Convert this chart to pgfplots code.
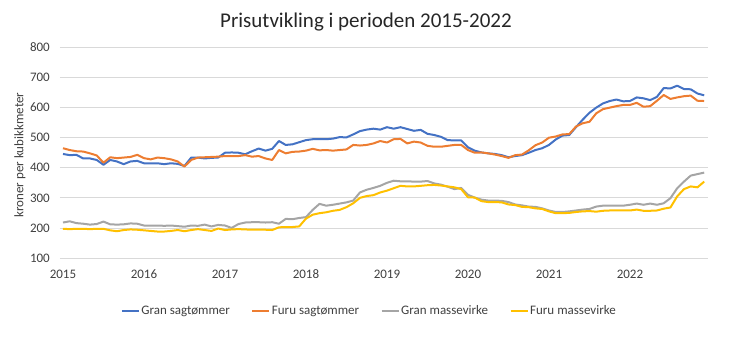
\documentclass[border=0pt]{standalone}
\usepackage{fontspec}
\setmainfont{Carlito}
\usepackage{pgfplots}
\usepackage{pgfplotstable}
\pgfplotsset{compat=1.18}
\definecolor{cblue}{HTML}{4472C4}
\definecolor{corange}{HTML}{ED7D31}
\definecolor{cgray}{HTML}{A5A5A5}
\definecolor{cgold}{HTML}{FFC000}
\definecolor{gridgray}{HTML}{D9D9D9}
\definecolor{txtgray}{HTML}{404040}
\definecolor{titlegray}{HTML}{262626}

\pgfplotstableread{
m gs fs gm fm
0 446 465 218 197
1 442 459 222 196
2 443 455 216 197
3 431 454 214 197
4 431 448 211 196
5 426 441 213 197
6 410 417 221 197
7 426 435 212 192
8 421 432 211 189
9 412 434 212 193
10 421 436 215 195
11 423 443 214 194
12 415 432 208 192
13 415 428 208 190
14 415 434 208 188
15 412 432 207 188
16 415 428 208 190
17 413 421 206 193
18 406 404 204 189
19 434 426 208 193
20 434 434 207 196
21 431 435 211 193
22 433 436 205 190
23 434 437 210 198
24 450 439 208 193
25 451 439 200 195
26 450 439 213 196
27 445 442 218 195
28 455 437 219 194
29 464 439 219 194
30 457 431 218 194
31 463 426 219 193
32 489 459 214 202
33 476 448 230 203
34 478 453 229 203
35 485 454 233 205
36 492 457 236 231
37 495 463 260 244
38 495 458 280 249
39 495 459 274 252
40 497 457 277 257
41 502 459 281 260
42 501 461 285 269
43 511 476 291 282
44 522 474 318 300
45 527 476 327 306
46 530 481 333 309
47 527 489 340 318
48 535 484 350 324
49 530 495 357 332
50 535 496 355 340
51 529 481 355 338
52 523 487 354 338
53 526 484 354 340
54 513 473 356 342
55 509 470 348 343
56 503 470 344 341
57 492 473 337 338
58 491 476 329 335
59 491 476 333 329
60 468 459 310 302
61 457 450 301 301
62 451 451 294 289
63 448 448 291 286
64 446 444 291 286
65 442 439 290 285
66 435 433 286 278
67 439 442 278 276
68 442 444 275 270
69 450 458 271 269
70 459 475 270 265
71 465 484 265 263
72 476 500 258 255
73 494 504 253 249
74 507 511 253 249
75 509 512 255 250
76 535 537 258 253
77 560 548 261 255
78 583 553 263 256
79 600 581 271 254
80 614 595 274 257
81 622 600 274 258
82 627 605 274 258
83 621 609 274 258
84 622 609 277 258
85 634 616 281 261
86 631 603 277 257
87 625 605 281 257
88 636 623 277 258
89 665 642 282 264
90 664 629 299 268
91 673 634 332 305
92 662 638 354 329
93 661 640 374 338
94 647 623 379 335
95 641 622 384 354
}\datatable

\begin{document}
\begin{tikzpicture}[x=1pt,y=1pt]
\path[use as bounding box] (-60,-97) rectangle (672,258);
\begin{axis}[
  at={(0,0)}, anchor=south west,
  scale only axis, width=648pt, height=210.5pt,
  xmin=-0.44, xmax=95.56, ymin=100, ymax=800,
  axis line style={draw=none},
  ytick={100,200,...,800},
  ymajorgrids, grid style={color=gridgray, line width=0.8pt},
  xtick={0,12,...,84},
  xticklabels={2015,2016,2017,2018,2019,2020,2021,2022},
  major tick length=0pt,
  /pgf/number format/assume math mode=true,
  tick label style={font=\fontsize{13}{15}\selectfont, text=txtgray},
  yticklabel style={anchor=east, inner sep=0pt, xshift=-10pt},
  xticklabel style={anchor=base, inner sep=0pt, yshift=-21pt},
  legend columns=4,
  legend style={draw=none, fill=none, at={(axis description cs:0.477,-0.252)}, anchor=center,
    font=\fontsize{13}{15}\selectfont, text=txtgray,
    nodes={inner sep=1.5pt},
    /tikz/every even column/.append style={column sep=20pt}},
  legend image code/.code={\draw[#1, line width=2pt] (0pt,0pt) -- (17pt,0pt);},
  every axis plot/.append style={line width=2pt, line join=round},
]
\addplot[cblue, no markers] table[x=m, y=gs] {\datatable};
\addlegendentry{Gran sagtømmer}
\addplot[corange, no markers] table[x=m, y=fs] {\datatable};
\addlegendentry{Furu sagtømmer}
\addplot[cgray, no markers] table[x=m, y=gm] {\datatable};
\addlegendentry{Gran massevirke}
\addplot[cgold, no markers] table[x=m, y=fm] {\datatable};
\addlegendentry{Furu massevirke}
\end{axis}
\node[anchor=base, font=\fontsize{21}{25}\selectfont, text=titlegray] at (306,230) {Prisutvikling i perioden 2015-2022};
\node[rotate=90, font=\fontsize{13}{15}\selectfont, text=txtgray] at (-40,103) {kroner per kubikkmeter};
\end{tikzpicture}
\end{document}
